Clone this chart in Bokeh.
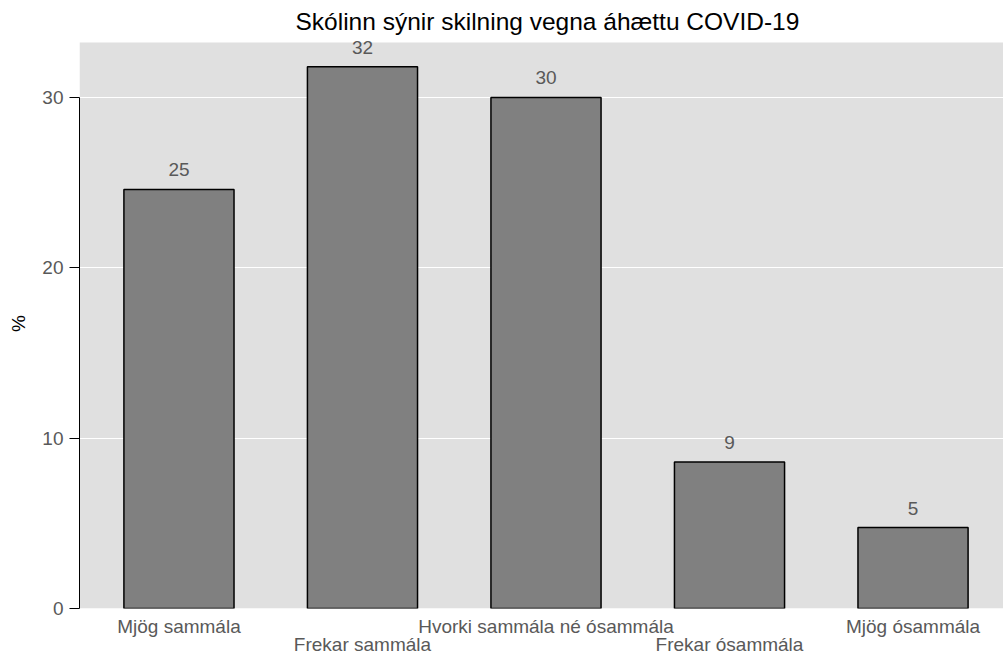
from bokeh.plotting import figure
from bokeh.models import Range1d, LinearAxis, FixedTicker, ColumnDataSource, LabelSet, BoxAnnotation
from bokeh.core.properties import value
from bokeh.embed import file_html
from bokeh.resources import INLINE

title = "Skólinn sýnir skilning vegna áhættu COVID-19"
categories = ["Mjög sammála", "Frekar sammála", "Hvorki sammála né ósammála",
              "Frekar ósammála", "Mjög ósammála"]
values = [24.6, 31.8, 30.0, 8.6, 4.75]
bar_labels = ["25", "32", "30", "9", "5"]
y_ticks = [0, 10, 20, 30]
y_label = "%"
y_panel_top = 33.23   # top of the grey plot region in data units
y_end = 33.46

FONT = "Liberation Sans"
GREY_TXT = "#595959"

positions = list(range(1, len(categories) + 1))
src = ColumnDataSource(dict(x=positions, top=values, lab=bar_labels))

p = figure(width=1003, height=660, output_backend="svg", toolbar_location=None,
           x_range=Range1d(0.458, 5.493), y_range=Range1d(0, y_end),
           x_axis_location=None,
           min_border_left=79, min_border_right=0, min_border_top=38, min_border_bottom=52)

p.background_fill_color = "white"
p.border_fill_color = "white"
p.outline_line_color = None
# grey plot panel (leaves room above it for the top bar label)
p.add_layout(BoxAnnotation(top=y_panel_top, fill_color="#e0e0e0", fill_alpha=1.0,
                           line_color=None, level="image"))

# title
p.title.text = title
p.title.align = "left"
p.title.offset = 216
p.title.standoff = 7
p.title.text_font = FONT
p.title.text_font_size = "24.5px"
p.title.text_font_style = "normal"
p.title.text_color = "black"

# bars
p.vbar(x="x", top="top", width=0.6, bottom=0, source=src,
       fill_color="#808080", line_color="black", line_width=1.5)

p.add_layout(LabelSet(x="x", y="top", text="lab", source=src, y_offset=13,
                      text_align="center", text_baseline="alphabetic",
                      text_font=value(FONT), text_font_size=value("19px"),
                      text_color=GREY_TXT))

# y axis
ya = p.yaxis[0]
ya.ticker = FixedTicker(ticks=y_ticks)
ya.bounds = (y_ticks[0], y_ticks[-1])
ya.axis_line_color = "black"
ya.axis_line_width = 1
ya.major_tick_out = 10
ya.major_tick_in = 0
ya.major_tick_line_color = "black"
ya.minor_tick_line_color = None
ya.major_label_standoff = 6
ya.major_label_text_font = FONT
ya.major_label_text_font_size = "19px"
ya.major_label_text_color = GREY_TXT
ya.axis_label = y_label
ya.axis_label_text_font = FONT
ya.axis_label_text_font_size = "19px"
ya.axis_label_text_font_style = "normal"
ya.axis_label_text_color = "black"
ya.axis_label_standoff = 10

p.ygrid.ticker = FixedTicker(ticks=y_ticks[1:])
p.ygrid.grid_line_color = "white"
p.ygrid.grid_line_width = 1
p.xgrid.grid_line_color = None

# staggered x axes (odd categories on the first row, even on the second)
def make_xaxis(idx, standoff):
    ax = LinearAxis(ticker=FixedTicker(ticks=[positions[i] for i in idx]),
                    major_label_overrides={positions[i]: categories[i] for i in idx})
    ax.axis_line_color = None
    ax.major_tick_line_color = None
    ax.minor_tick_line_color = None
    ax.major_tick_out = 0
    ax.major_tick_in = 0
    ax.major_label_standoff = standoff
    ax.major_label_text_font = FONT
    ax.major_label_text_font_size = "19px"
    ax.major_label_text_color = GREY_TXT
    return ax

p.add_layout(make_xaxis([0, 2, 4], 7), "below")
p.add_layout(make_xaxis([1, 3], -6), "below")

open("out.html", "w").write(file_html(p, INLINE))
